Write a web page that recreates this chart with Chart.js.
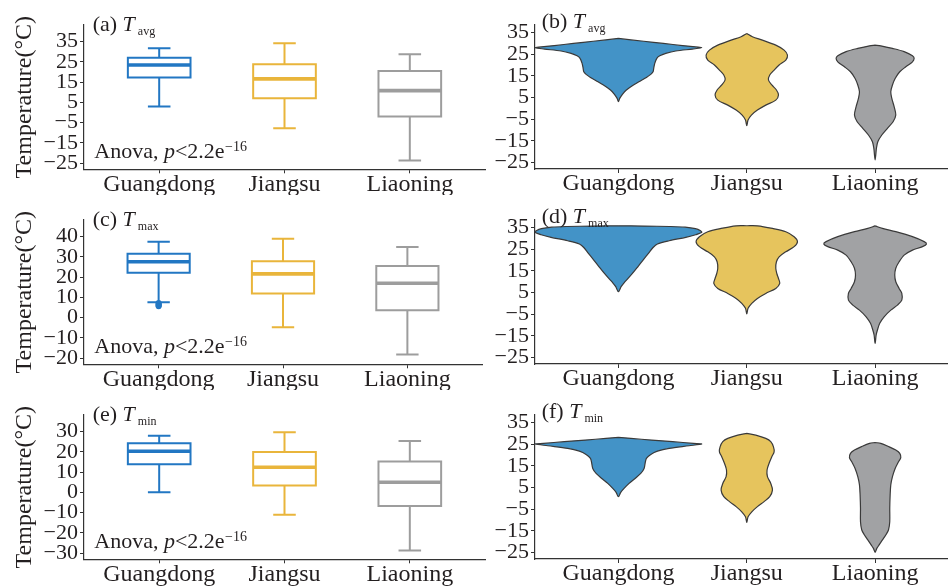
<!DOCTYPE html>
<html>
<head>
<meta charset="utf-8">
<script src="https://cdn.jsdelivr.net/npm/chart.js@4.4.1/dist/chart.umd.min.js"></script>
<style>
  html, body { margin: 0; padding: 0; background: #ffffff; }
  #sheet { position: relative; width: 948px; height: 588px; overflow: hidden; background: #ffffff; }
  #sheet canvas { position: absolute; }
</style>
</head>
<body>
<div id="sheet">
  <canvas id="boxAvg" width="486" height="195" style="left:0;top:0"></canvas>
  <canvas id="violinAvg" width="462" height="195" style="left:486px;top:0"></canvas>
  <canvas id="boxMax" width="486" height="195" style="left:0;top:195px"></canvas>
  <canvas id="violinMax" width="462" height="195" style="left:486px;top:195px"></canvas>
  <canvas id="boxMin" width="486" height="198" style="left:0;top:390px"></canvas>
  <canvas id="violinMin" width="462" height="198" style="left:486px;top:390px"></canvas>
</div>
<script>
// ---------------- data ----------------
const provinces = ['Guangdong', 'Jiangsu', 'Liaoning'];

// Box-plot summaries (°C), one entry per province
const tavgLow    = [3.0, -7.7, -23.7];
const tavgQ1     = [17.3, 7.1, -2.0];
const tavgMedian = [23.5, 16.6, 10.8];
const tavgQ3     = [27.1, 23.8, 20.5];
const tavgHigh   = [31.7, 34.2, 28.8];

const tmaxLow    = [7.6, -4.7, -18.2];
const tmaxQ1     = [22.2, 11.9, 3.7];
const tmaxMedian = [27.6, 21.6, 17.0];
const tmaxQ3     = [31.6, 27.9, 25.5];
const tmaxHigh   = [37.5, 39.0, 34.9];
const tmaxGuangdongOutliers = [7.2, 6.8, 6.4, 6.0, 5.6];

const tminLow    = [0.1, -11.0, -28.7];
const tminQ1     = [13.9, 3.4, -6.7];
const tminMedian = [20.3, 12.4, 5.0];
const tminQ3     = [24.3, 20.0, 15.2];
const tminHigh   = [27.9, 29.7, 25.4];

// Axis tick values
const tavgTicks   = [35, 25, 15, 5, -5, -15, -25];
const tmaxTicks   = [40, 30, 20, 10, 0, -10, -20];
const tminTicks   = [30, 20, 10, 0, -10, -20, -30];
const violinTicks = [35, 25, 15, 5, -5, -15, -25];

// Violin outlines: temperature levels (top to bottom) and density half-widths (category units)
const tavgGuangdongLevels = [32.3, 31.0, 30.0, 29.0, 28.5, 28.0, 27.4, 26.5, 25.4, 24.3, 23.1, 20.8, 18.5, 16.9, 15.7, 14.3, 12.8, 10.8, 8.5, 6.5, 4.6, 3.1];
const tavgGuangdongWidths = [0, 0.197, 0.35, 0.50, 0.58, 0.649, 0.577, 0.447, 0.369, 0.322, 0.299, 0.283, 0.275, 0.270, 0.252, 0.218, 0.174, 0.117, 0.062, 0.031, 0.010, 0];
const tavgJiangsuLevels = [34.6, 33.1, 31.5, 29.2, 26.9, 24.6, 22.3, 20.0, 17.7, 15.4, 13.1, 10.8, 8.5, 6.2, 3.8, 1.5, -0.8, -3.1, -5.4, -8.0];
const tavgJiangsuWidths = [0, 0.044, 0.122, 0.226, 0.291, 0.317, 0.304, 0.252, 0.213, 0.179, 0.169, 0.195, 0.231, 0.247, 0.226, 0.148, 0.083, 0.036, 0.010, 0];
const tavgLiaoningLevels = [29.2, 28.9, 27.7, 26.2, 24.3, 23.1, 21.5, 19.2, 16.9, 13.8, 10.8, 7.7, 4.6, 0.8, -3.1, -6.2, -9.2, -12.3, -15.4, -18.5, -21.5, -23.8];
const tavgLiaoningWidths = [0, 0.044, 0.135, 0.226, 0.291, 0.304, 0.291, 0.239, 0.192, 0.156, 0.135, 0.122, 0.130, 0.148, 0.161, 0.140, 0.096, 0.052, 0.021, 0.010, 0.005, 0];

const tmaxGuangdongLevels = [35.8, 35.7, 35.5, 35.2, 34.5, 33.5, 32.8, 31.7, 30.5, 28.9, 27.4, 25.8, 23.1, 20.0, 16.9, 13.8, 11.5, 9.5, 7.7, 5.4];
const tmaxGuangdongWidths = [0, 0.20, 0.40, 0.52, 0.60, 0.64, 0.649, 0.602, 0.525, 0.395, 0.304, 0.270, 0.234, 0.192, 0.151, 0.109, 0.075, 0.044, 0.021, 0];
const tmaxJiangsuLevels = [35.85, 35.8, 34.6, 33.1, 30.8, 28.5, 26.2, 23.8, 21.5, 19.2, 16.2, 13.8, 11.5, 9.2, 6.9, 4.6, 2.3, 0.0, -2.3, -4.9];
const tmaxJiangsuWidths = [0, 0.083, 0.20, 0.304, 0.369, 0.395, 0.369, 0.304, 0.252, 0.231, 0.226, 0.234, 0.247, 0.257, 0.226, 0.148, 0.083, 0.039, 0.010, 0];
const tmaxLiaoningLevels = [35.8, 34.6, 33.1, 30.8, 28.5, 27.4, 26.2, 24.6, 22.3, 19.2, 16.2, 13.1, 10.0, 6.9, 4.6, 1.5, -0.8, -3.1, -6.2, -9.2, -12.3, -14.6, -18.5];
const tmaxLiaoningWidths = [0, 0.057, 0.161, 0.291, 0.382, 0.40, 0.369, 0.291, 0.226, 0.187, 0.161, 0.153, 0.161, 0.187, 0.208, 0.208, 0.174, 0.122, 0.070, 0.036, 0.018, 0.008, 0];

const tminGuangdongLevels = [28.2, 27.7, 26.9, 26.2, 25.4, 25.1, 24.3, 23.1, 21.8, 20.3, 18.5, 16.2, 13.8, 11.5, 9.2, 6.9, 4.6, 2.8, 0.8];
const tminGuangdongWidths = [0, 0.097, 0.26, 0.422, 0.584, 0.649, 0.551, 0.395, 0.304, 0.252, 0.218, 0.208, 0.20, 0.174, 0.13, 0.083, 0.044, 0.018, 0];
const tminJiangsuLevels = [30.0, 29.2, 27.7, 26.2, 23.8, 21.5, 19.2, 16.2, 13.1, 10.0, 6.9, 3.8, 0.8, -1.5, -3.8, -6.2, -8.5, -11.1];
const tminJiangsuWidths = [0, 0.07, 0.148, 0.187, 0.208, 0.213, 0.195, 0.174, 0.158, 0.161, 0.187, 0.20, 0.179, 0.135, 0.083, 0.039, 0.010, 0];
const tminLiaoningLevels = [25.8, 25.4, 23.8, 22.3, 20.8, 18.8, 16.9, 13.8, 10.0, 6.2, 1.5, -4.6, -10.8, -14.6, -16.9, -19.2, -21.5, -23.1, -24.9];
const tminLiaoningWidths = [0, 0.044, 0.109, 0.161, 0.192, 0.20, 0.182, 0.156, 0.135, 0.122, 0.117, 0.114, 0.114, 0.104, 0.083, 0.057, 0.031, 0.013, 0];

// ---------------- styling ----------------
const FONT = '"Liberation Serif", "Times New Roman", serif';
const INK = '#231f20';
const AXIS = '#333333';
const BOX_COLORS = ['#2277c3', '#e9b53b', '#9d9d9d'];
const VIOLIN_FILL = ['#4393c7', '#e6c45d', '#a1a2a4'];
const VIOLIN_EDGE = '#3a3a3a';

Chart.defaults.font.family = FONT;

function fmtTick(v) { return v < 0 ? '\u2212' + Math.abs(v) : String(v); }

function segment(points, color, width) {
  return {
    type: 'line', data: points, borderColor: color, borderWidth: width,
    pointRadius: 0, fill: false, tension: 0,
    borderCapStyle: 'butt', borderJoinStyle: 'miter'
  };
}

function boxDatasets(low, q1, med, q3, high, outliers) {
  const halfBox = 0.25, halfCap = 0.09;
  const sets = [];
  provinces.forEach((name, i) => {
    const x = i + 1, c = BOX_COLORS[i];
    sets.push(segment([{x: x + halfCap, y: high[i]}, {x: x - halfCap, y: high[i]}, {x: x, y: high[i]}, {x: x, y: q3[i]}], c, 2));
    sets.push(segment([{x: x + halfCap, y: low[i]}, {x: x - halfCap, y: low[i]}, {x: x, y: low[i]}, {x: x, y: q1[i]}], c, 2));
    sets.push(segment([
      {x: x - halfBox, y: q1[i]}, {x: x + halfBox, y: q1[i]}, {x: x + halfBox, y: q3[i]},
      {x: x - halfBox, y: q3[i]}, {x: x - halfBox, y: q1[i]}, {x: x + halfBox, y: q1[i]}
    ], c, 2));
    sets.push(segment([{x: x - halfBox, y: med[i]}, {x: x + halfBox, y: med[i]}], c, 3.6));
  });
  if (outliers) {
    sets.push({
      type: 'scatter', data: outliers.map(v => ({x: 1, y: v})),
      pointRadius: 3, pointBackgroundColor: BOX_COLORS[0], pointBorderWidth: 0, showLine: false
    });
  }
  return sets;
}

function violinDataset(levels, widths, i) {
  const x = i + 1;
  const right = levels.map((v, k) => ({x: x + widths[k], y: v}));
  const left = [];
  for (let k = levels.length - 2; k >= 1; k--) left.push({x: x - widths[k], y: levels[k]});
  const pts = right.concat(left);
  pts.push({x: right[0].x, y: right[0].y});
  return {
    type: 'line', data: pts, borderColor: VIOLIN_EDGE, borderWidth: 1.2,
    backgroundColor: VIOLIN_FILL[i], fill: 'shape', pointRadius: 0, tension: 0.3,
    borderJoinStyle: 'round'
  };
}

// Panel tag, italic T with subscript, and optional ANOVA note
const panelText = {
  id: 'panelText',
  afterDraw(chart, args, o) {
    const {ctx, chartArea: a} = chart;
    ctx.save();
    ctx.fillStyle = INK;
    ctx.textBaseline = 'alphabetic';
    ctx.textAlign = 'left';
    let x = a.left + o.dx, y = a.top + o.dy;
    ctx.font = '22px ' + FONT;
    ctx.fillText(o.tag + ' ', x, y);
    x += ctx.measureText(o.tag + ' ').width;
    ctx.font = 'italic 22px ' + FONT;
    ctx.fillText('T', x, y);
    x += ctx.measureText('T').width + 3;
    ctx.font = '12px ' + FONT;
    ctx.fillText(o.sub, x, y + 3.5);
    if (o.anova) {
      x = a.left + 10.3; y = a.bottom - 11.3;
      ctx.font = '22px ' + FONT;
      ctx.fillText('Anova, ', x, y);
      x += ctx.measureText('Anova, ').width;
      ctx.font = 'italic 22px ' + FONT;
      ctx.fillText('p', x, y);
      x += ctx.measureText('p').width;
      ctx.font = '22px ' + FONT;
      ctx.fillText('<2.2e', x, y);
      x += ctx.measureText('<2.2e').width + 0.5;
      ctx.font = '14px ' + FONT;
      ctx.fillText('\u221216', x, y - 7);
    }
    ctx.restore();
  }
};

function axisCommon() {
  return {
    grid: { drawOnChartArea: false, drawTicks: true, tickLength: 4, color: AXIS, lineWidth: 1 },
    border: { display: true, color: AXIS, width: 1.2 }
  };
}

function makeChart(id, datasets, cfg) {
  const x = Object.assign(axisCommon(), {
    type: 'linear', min: cfg.xmin, max: cfg.xmax,
    afterBuildTicks: s => { s.ticks = provinces.map((p, i) => ({value: i + 1})); },
    afterFit: s => { s.height = cfg.xh; },
    ticks: {
      callback: v => provinces[Math.round(v) - 1],
      font: { family: FONT, size: 24, lineHeight: 1 }, color: INK,
      padding: -1, maxRotation: 0, autoSkip: false
    }
  });
  const y = Object.assign(axisCommon(), {
    type: 'linear', min: cfg.ymin, max: cfg.ymax,
    afterBuildTicks: s => { s.ticks = cfg.ticks.map(v => ({value: v})); },
    afterFit: s => { s.width = cfg.yw; },
    ticks: { callback: fmtTick, font: { family: FONT, size: 22 }, color: INK, padding: 2, autoSkip: false },
    title: cfg.ytitle ? {
      display: true, text: 'Temperature(\u00b0C)', color: INK,
      font: { family: FONT, size: 24 }, padding: { top: 10, bottom: 0 }
    } : { display: false }
  });
  return new Chart(document.getElementById(id), {
    type: 'line',
    data: { datasets },
    options: {
      responsive: false, animation: false, devicePixelRatio: 1,
      layout: { padding: { top: 25, right: 1, bottom: 0, left: 0 } },
      plugins: {
        legend: { display: false }, tooltip: { enabled: false },
        panelText: cfg.label
      },
      scales: { x, y }
    },
    plugins: [panelText]
  });
}

// ---------------- box plots ----------------
makeChart('boxAvg', boxDatasets(tavgLow, tavgQ1, tavgMedian, tavgQ3, tavgHigh), {
  xmin: 0.4, xmax: 3.6, xh: 25.7, ymin: -28, ymax: 43.2, yw: 84, ticks: tavgTicks, ytitle: true,
  label: { tag: '(a)', sub: 'avg', dx: 8.7, dy: 6, anova: true }
});
makeChart('boxMax', boxDatasets(tmaxLow, tmaxQ1, tmaxMedian, tmaxQ3, tmaxHigh, tmaxGuangdongOutliers), {
  xmin: 0.4, xmax: 3.6, xh: 25.7, ymin: -23, ymax: 48.2, yw: 84, ticks: tmaxTicks, ytitle: true,
  label: { tag: '(c)', sub: 'max', dx: 8.7, dy: 6, anova: true }
});
makeChart('boxMin', boxDatasets(tminLow, tminQ1, tminMedian, tminQ3, tminHigh), {
  xmin: 0.4, xmax: 3.6, xh: 28.7, ymin: -33, ymax: 38.2, yw: 84, ticks: tminTicks, ytitle: true,
  label: { tag: '(e)', sub: 'min', dx: 8.7, dy: 6, anova: true }
});

// ---------------- violins ----------------
makeChart('violinAvg', [
  violinDataset(tavgGuangdongLevels, tavgGuangdongWidths, 0),
  violinDataset(tavgJiangsuLevels, tavgJiangsuWidths, 1),
  violinDataset(tavgLiaoningLevels, tavgLiaoningWidths, 2)
], {
  xmin: 0.35, xmax: 3.56, xh: 26, ymin: -28, ymax: 38.5, yw: 49, ticks: violinTicks, ytitle: false,
  label: { tag: '(b)', sub: 'avg', dx: 6.7, dy: 3, anova: false }
});
makeChart('violinMax', [
  violinDataset(tmaxGuangdongLevels, tmaxGuangdongWidths, 0),
  violinDataset(tmaxJiangsuLevels, tmaxJiangsuWidths, 1),
  violinDataset(tmaxLiaoningLevels, tmaxLiaoningWidths, 2)
], {
  xmin: 0.35, xmax: 3.56, xh: 26, ymin: -28, ymax: 38.5, yw: 49, ticks: violinTicks, ytitle: false,
  label: { tag: '(d)', sub: 'max', dx: 6.7, dy: 3, anova: false }
});
makeChart('violinMin', [
  violinDataset(tminGuangdongLevels, tminGuangdongWidths, 0),
  violinDataset(tminJiangsuLevels, tminJiangsuWidths, 1),
  violinDataset(tminLiaoningLevels, tminLiaoningWidths, 2)
], {
  xmin: 0.35, xmax: 3.56, xh: 29, ymin: -28, ymax: 38.5, yw: 49, ticks: violinTicks, ytitle: false,
  label: { tag: '(f)', sub: 'min', dx: 6.7, dy: 3, anova: false }
});
</script>
</body>
</html>
